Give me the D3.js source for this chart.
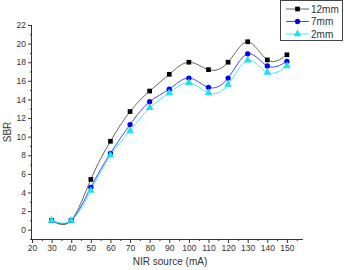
<!DOCTYPE html>
<html><head><meta charset="utf-8">
<script src="https://cdn.jsdelivr.net/npm/d3@7"></script>
<style>body{margin:0;background:#fff}svg{display:block}text{font-family:Arial,"Liberation Sans",sans-serif;fill:#333}</style>
</head><body><svg id="c" width="344" height="270"></svg>
<script>
const xs = [30,40,50,60,70,80,90,100,110,120,130,140,150];
const s12 = [1.0,1.0,5.4,9.5,12.7,14.9,16.7,18.0,17.2,18.0,20.2,18.25,18.8];
const s7  = [1.0,1.0,4.55,8.2,11.3,13.75,15.1,16.3,15.3,16.3,18.9,17.6,18.1];
const s2  = [1.0,1.0,4.2,8.0,10.6,13.1,14.7,15.8,14.7,15.6,18.2,16.9,17.6];
const names = ["12mm","7mm","2mm"];
const xTicks = [20,30,40,50,60,70,80,90,100,110,120,130,140,150];
const yTicks = [0,2,4,6,8,10,12,14,16,18,20,22];

const svg = d3.select("#c");
const x = d3.scaleLinear().domain([20,158.2]).range([32,303]);
const y = d3.scaleLinear().domain([-1,22]).range([239,25]);

const series = [
  {name:names[0], vals:s12, line:"#555", fill:"#000", shape:d3.symbolSquare},
  {name:names[1], vals:s7, line:"#3030ff", fill:"#0000ff", shape:d3.symbolCircle},
  {name:names[2], vals:s2, line:"#30e8f0", fill:"#20e0f0", shape:d3.symbolTriangle}
];

// axes
const gx = svg.append("g").attr("transform","translate(0,239)")
  .call(d3.axisBottom(x).tickValues(xTicks).tickFormat(d3.format("d")).tickSize(4).tickPadding(2));
const gxm = svg.append("g").attr("transform","translate(0,239)")
  .call(d3.axisBottom(x).tickValues(d3.range(25,158,10)).tickFormat("").tickSize(2));
const gy = svg.append("g").attr("transform","translate(32,0)")
  .call(d3.axisLeft(y).tickValues(yTicks).tickFormat(d3.format("d")).tickSize(4).tickPadding(2));
const gym = svg.append("g").attr("transform","translate(32,0)")
  .call(d3.axisLeft(y).tickValues(d3.range(-1,22,2)).tickFormat("").tickSize(2));
[gx,gxm,gy,gym].forEach(g=>{
  g.selectAll("path").attr("stroke","#333").attr("stroke-width",1);
  g.selectAll("line").attr("stroke","#333");
  g.selectAll("text").attr("font-size",8.5).attr("fill","#444").attr("font-family","Arial,'Liberation Sans',sans-serif");
});
gx.select(".domain").attr("d","M32,0.5H303");
gy.select(".domain").attr("d","M-0.5,25V239");
gxm.select(".domain").remove(); gym.select(".domain").remove();

svg.append("text").attr("x",170).attr("y",265).attr("text-anchor","middle").attr("font-size",10).attr("fill","#444").text("NIR source (mA)");
svg.append("text").attr("transform","translate(11,132) rotate(-90)").attr("text-anchor","middle").attr("font-size",10).attr("fill","#444").text("SBR");

const line = d3.line().x((d,i)=>x(xs[i])).y(d=>y(d)).curve(d3.curveNatural);
series.forEach(s=>{
  svg.append("path").attr("d",line(s.vals)).attr("fill","none").attr("stroke",s.line).attr("stroke-width",0.9);
});
series.forEach(s=>{
  svg.append("g").selectAll("path").data(s.vals).join("path")
    .attr("transform",(d,i)=>`translate(${x(xs[i])},${y(d)})`)
    .attr("d",d3.symbol().type(s.shape).size(s.shape===d3.symbolTriangle?26:22)())
    .attr("fill",s.fill);
});

// legend
const lg = svg.append("g");
lg.append("rect").attr("x",280.5).attr("y",0.5).attr("width",62).attr("height",40).attr("fill","#fff").attr("stroke","#444");
series.forEach((s,i)=>{
  const yy = 9+i*12.5;
  lg.append("line").attr("x1",286).attr("x2",309).attr("y1",yy).attr("y2",yy).attr("stroke",s.line).attr("stroke-width",0.9);
  lg.append("path").attr("transform",`translate(297.5,${yy})`).attr("d",d3.symbol().type(s.shape).size(s.shape===d3.symbolTriangle?26:22)()).attr("fill",s.fill);
  lg.append("text").attr("x",311).attr("y",yy+3.5).attr("font-size",10).attr("fill","#444").text(s.name);
});
</script></body></html>
